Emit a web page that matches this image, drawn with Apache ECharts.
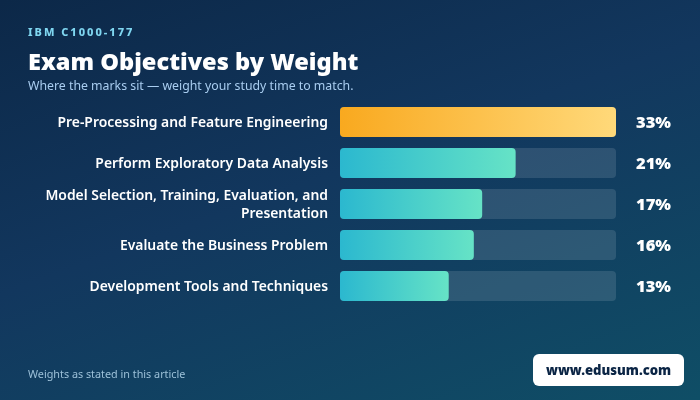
<html>

<head>
  <meta charset="utf-8">
  <script src="https://cdnjs.cloudflare.com/ajax/libs/echarts/6.0.0/echarts.min.js"></script>
  <title>Exam Objectives by Weight</title>
</head>

<body style="margin: 0; overflow: hidden;">
  <div id="main" style="width: 700px; height: 400px;"></div>
  <script>
    var eyebrow = 'IBM C1000-177';
    var titleText = 'Exam Objectives by Weight';
    var subtitleText = 'Where the marks sit \u2014 weight your study time to match.';
    var footnote = 'Weights as stated in this article';
    var siteName = 'www.edusum.com';
    var categories = [
      'Pre-Processing and Feature Engineering',
      'Perform Exploratory Data Analysis',
      'Model Selection, Training, Evaluation, and\nPresentation',
      'Evaluate the Business Problem',
      'Development Tools and Techniques'
    ];
    var weights = [33, 21, 17, 16, 13];

    var font = '"Noto Sans", sans-serif';

    // canvas text has no letter spacing option in echarts, so set it for the eyebrow only
    var origFillText = CanvasRenderingContext2D.prototype.fillText;
    CanvasRenderingContext2D.prototype.fillText = function (text, x, y) {
      this.letterSpacing = text === eyebrow ? '2px' : '0px';
      return origFillText.call(this, text, x, y);
    };

    function hGrad(a, b) {
      return new echarts.graphic.LinearGradient(0, 0, 1, 0, [
        { offset: 0, color: a },
        { offset: 1, color: b }
      ]);
    }

    var myChart = echarts.init(document.getElementById('main'), null, { renderer: 'canvas' });

    var option = {
      animation: false,
      // same as a css 160deg gradient on a 700x400 box
      backgroundColor: new echarts.graphic.LinearGradient(0.35, -0.22, 0.65, 1.22, [
        { offset: 0, color: '#0c2848' },
        { offset: 0.45, color: '#12375e' },
        { offset: 1, color: '#0f4e66' }
      ]),
      // second grid only carries the axis labels, noto sits a bit high so it is moved down
      grid: [
        { left: 340, top: 101.5, width: 276, height: 205 },
        { left: 340, top: 103, width: 276, height: 205 }
      ],
      xAxis: [
        { type: 'value', min: 0, max: 33, show: false, gridIndex: 0 },
        { type: 'value', min: 0, max: 33, show: false, gridIndex: 1 }
      ],
      yAxis: [
        { type: 'category', inverse: true, data: categories, show: false, gridIndex: 0 },
        {
          type: 'category',
          gridIndex: 1,
          inverse: true,
          data: categories,
          axisLine: { show: false },
          axisTick: { show: false },
          axisLabel: {
            margin: 12,
            color: '#ffffff',
            fontFamily: font,
            fontSize: 13.9,
            fontWeight: 600,
            lineHeight: 18,
            align: 'right'
          }
        },
        {
          type: 'category',
          gridIndex: 1,
          inverse: true,
          position: 'right',
          data: weights.map(function (w) { return w + '%'; }),
          axisLine: { show: false },
          axisTick: { show: false },
          axisLabel: {
            margin: 55,
            color: '#ffffff',
            fontFamily: font,
            fontSize: 16.5,
            fontWeight: 900,
            align: 'right'
          }
        }
      ],
      series: [
        {
          type: 'bar',
          barWidth: 30,
          showBackground: true,
          backgroundStyle: { color: 'rgba(255,255,255,0.12)', borderRadius: 4 },
          data: weights.map(function (w, i) {
            return {
              value: w,
              itemStyle: {
                borderRadius: 4,
                color: i === 0 ? hGrad('#f9a91f', '#ffd97a') : hGrad('#2bb8cf', '#66e3c6')
              }
            };
          })
        }
      ],
      graphic: [
        { type: 'text', left: 28, top: 27, style: { text: eyebrow, fill: '#7fd6f0', font: '800 11px ' + font } },
        { type: 'text', left: 28, top: 51, style: { text: titleText, fill: '#ffffff', font: '900 23.6px ' + font } },
        { type: 'text', left: 28, top: 80, style: { text: subtitleText, fill: '#a9cdf0', font: '400 12.3px ' + font } },
        { type: 'text', left: 28, top: 369, style: { text: footnote, fill: '#9cc0d8', font: '400 10.8px ' + font } },
        { type: 'rect', left: 533, top: 354, shape: { width: 151, height: 32, r: 6 }, style: { fill: '#ffffff' } },
        { type: 'text', left: 546, top: 365, style: { text: siteName, fill: '#0b2545', font: '900 13.1px ' + font } }
      ]
    };

    myChart.setOption(option);
  </script>
</body>

</html>
